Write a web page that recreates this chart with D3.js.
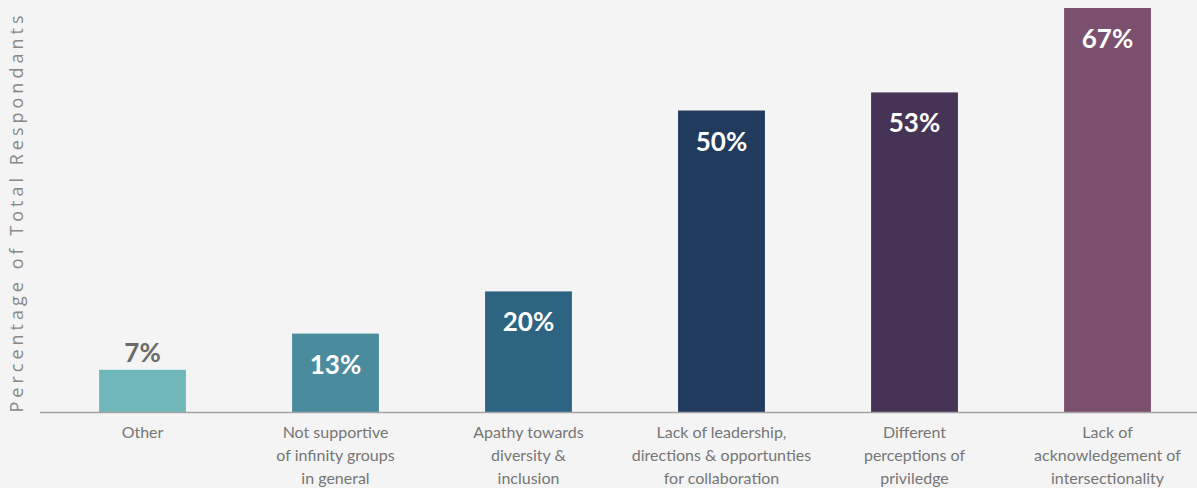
<!DOCTYPE html>
<html>
<head>
<meta charset="utf-8">
<script src="https://cdn.jsdelivr.net/npm/d3@7"></script>
<style>
  html, body { margin: 0; padding: 0; background: #f4f4f4; }
  svg { display: block; }
</style>
</head>
<body>
<svg id="chart" width="1197" height="488"></svg>
<script>
// Survey results: barriers reported, as share of all respondents
const categories = [
  ["Other"],
  ["Not supportive", "of infinity groups", "in general"],
  ["Apathy towards", "diversity &", "inclusion"],
  ["Lack of leadership,", "directions & opportunties", "for collaboration"],
  ["Different", "perceptions of", "priviledge"],
  ["Lack of", "acknowledgement of", "intersectionality"]
];
const values = [7, 13, 20, 50, 53, 67];
const barColors = ["#6fb7b9", "#4a8c9e", "#2d6481", "#213b5e", "#463356", "#7b506f"];
const yTitle = "Percentage of Total Respondants";

const svg = d3.select("#chart");
const W = 1197, H = 488;
const baseY = 412, topY = 8;

const x = d3.scaleBand()
  .domain(d3.range(categories.length))
  .range([46, 1204])
  .paddingInner(0.55)
  .paddingOuter(0.275);

const y = d3.scaleLinear()
  .domain([0, 67])
  .range([baseY, topY]);

// bars
svg.append("g").selectAll("rect")
  .data(values)
  .join("rect")
  .attr("x", (d, i) => x(i))
  .attr("y", d => y(d))
  .attr("width", x.bandwidth())
  .attr("height", d => baseY - y(d))
  .attr("fill", (d, i) => barColors[i]);

// baseline
svg.append("line")
  .attr("x1", 40).attr("x2", W)
  .attr("y1", baseY + 0.5).attr("y2", baseY + 0.5)
  .attr("stroke", "#a3a3a3")
  .attr("stroke-width", 1.5);

// value labels: inside the bar, or above it when the bar is short
svg.append("g").selectAll("text")
  .data(values)
  .join("text")
  .attr("x", (d, i) => x(i) + x.bandwidth() / 2)
  .attr("y", d => (baseY - y(d)) > 60 ? y(d) + 40 : y(d) - 8)
  .attr("text-anchor", "middle")
  .attr("font-family", "Lato, 'Open Sans', sans-serif")
  .attr("font-weight", 700)
  .attr("font-size", 26)
  .attr("fill", d => (baseY - y(d)) > 60 ? "#ffffff" : "#6b6b6b")
  .text(d => d + "%");

// category labels
const lab = svg.append("g").selectAll("text")
  .data(categories)
  .join("text")
  .attr("text-anchor", "middle")
  .attr("font-family", "Lato, 'Open Sans', sans-serif")
  .attr("font-size", 16)
  .attr("fill", "#767676");
lab.selectAll("tspan")
  .data((d, i) => d.map(t => ({ t, i })))
  .join("tspan")
  .attr("x", d => x(d.i) + x.bandwidth() / 2)
  .attr("y", (d, j) => 438 + j * 23)
  .text(d => d.t);

// y-axis title
svg.append("text")
  .attr("transform", `translate(23, ${(baseY + topY) / 2 + 4}) rotate(-90)`)
  .attr("text-anchor", "middle")
  .attr("font-family", "'Open Sans', Lato, sans-serif")
  .attr("font-weight", 400)
  .attr("font-size", 18)
  .attr("fill", "#888888")
  .attr("textLength", 397)
  .attr("lengthAdjust", "spacing")
  .text(yTitle);
</script>
</body>
</html>
